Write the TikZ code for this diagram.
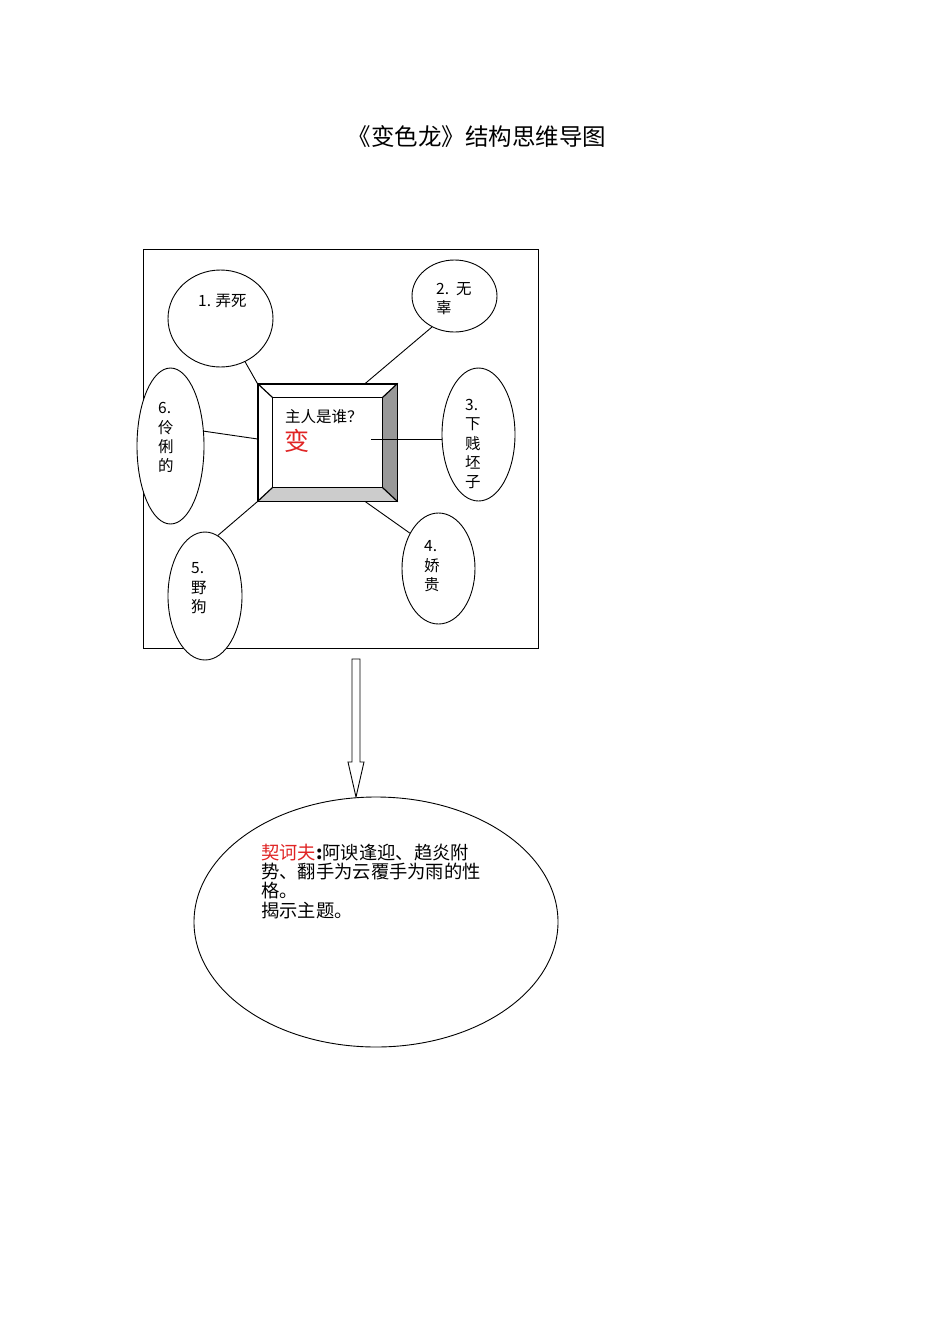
\documentclass[tikz,border=0pt]{standalone}
\usepackage{fontspec}
\setmainfont{Noto Sans CJK SC}
\usetikzlibrary{shapes.geometric,calc}
\definecolor{bevdark}{HTML}{999999}
\definecolor{bevlight}{HTML}{CCCCCC}
\definecolor{keyred}{HTML}{E02424}
\begin{document}
\begin{tikzpicture}[x=1pt,y=-1pt,
  ell/.style={ellipse,draw=black,line width=0.9pt,inner sep=0pt,fill=white},
  link/.style={draw=black,line width=0.9pt},
  lbl/.style={anchor=north west,inner sep=0pt,align=left,font=\fontsize{15.5}{19.3}\selectfont},
  bigtxt/.style={anchor=north west,inner sep=0pt,align=left,font=\fontsize{18.3}{19.3}\selectfont}]
\useasboundingbox (0,0) rectangle (950,1344);
\fill[white] (0,0) rectangle (950,1344);

% title
\node[inner sep=0pt,font=\fontsize{23.5}{26}\selectfont] (title) at (477,137) {《变色龙》结构思维导图};

% outer frame
\node[draw=black,line width=0.9pt,minimum width=395pt,minimum height=399pt,inner sep=0pt] (frame) at (340.5,448.5) {};

% central bevelled box
\node[draw=black,line width=1.4pt,minimum width=139pt,minimum height=117pt,inner sep=0pt] (box) at (327.5,442.5) {};
\coordinate (inw) at ($(box.north west)+(15,14)$);
\coordinate (ine) at ($(box.north east)+(-15,14)$);
\coordinate (ise) at ($(box.south east)+(-15,-14)$);
\coordinate (isw) at ($(box.south west)+(15,-14)$);
\fill[bevdark] (box.north east) -- (box.south east) -- (ise) -- (ine) -- cycle;
\fill[bevlight] (box.south west) -- (box.south east) -- (ise) -- (isw) -- cycle;
\draw[line width=1.4pt] (box.north west) rectangle (box.south east);
\draw[line width=1.4pt] (inw) rectangle (ise);
\draw[line width=1.2pt] (box.north west) -- (inw) (box.north east) -- (ine)
  (box.south east) -- (ise) (box.south west) -- (isw);
\node[lbl] (q) at (285,409.3) {主人是谁？};
\node[anchor=north west,inner sep=0pt,text=keyred,font=\fontsize{25}{26}\selectfont] (bian) at (284.5,429.5) {变};

% satellite ellipses
\node[ell,minimum width=105pt,minimum height=97pt] (e1) at (220.5,318.5) {};
\node[ell,minimum width=85pt,minimum height=72pt] (e2) at (454.5,296) {};
\node[ell,minimum width=73pt,minimum height=133pt] (e3) at (478.5,434.5) {};
\node[ell,minimum width=73pt,minimum height=111pt] (e4) at (438.5,568.5) {};
\node[ell,minimum width=74pt,minimum height=128pt] (e5) at (205,596) {};
\node[ell,minimum width=67pt,minimum height=156pt] (e6) at (170.5,446) {};

\node[lbl] (t1) at (198,294.5) {1. 弄死};
\node[lbl] (t2) at (436,282.5) {2.\ \ 无\\辜};
\node[lbl] (t3) at (465,399) {3.\\下\\贱\\坯\\子};
\node[lbl] (t4) at (424,540.5) {4.\\娇\\贵};
\node[lbl] (t5) at (191,562.5) {5.\\野\\狗};
\node[lbl] (t6) at (158,402.5) {6.\\伶\\俐\\的};

% connectors
\draw[link] (e1) -- (box.north west);
\draw[link] (e2.234) -- ($(box.north west)!0.77!(box.north east)$);
\coordinate (c3) at (371,439);
\draw[link] (c3) -- (c3 -| e3.west);
\draw[link] ($(box.south west)!0.77!(box.south east)$) -- (e4.129);
\draw[link] (box.south west) -- (e5.78);
\draw[link] (e6.24) -- ($(box.north west)!0.47!(box.south west)$);

% block arrow
\coordinate (atop) at (356,659);
\coordinate (atip) at (356,797);
\draw[line width=0.9pt,fill=white] ($(atop)+(-4,0)$) -- ($(atop)+(4,0)$) -- ($(atip)+(4,-35)$) -- ($(atip)+(8,-35)$)
  -- (atip) -- ($(atip)+(-8,-35)$) -- ($(atip)+(-4,-35)$) -- cycle;

% conclusion ellipse
\node[ell,minimum width=364pt,minimum height=250pt] (concl) at (376,922) {};
\node[bigtxt] (ctext) at (261,843.5) {{\color{keyred}契诃夫}\textbf{:}阿谀逢迎、趋炎附\\势、翻手为云覆手为雨的性\\格。\\揭示主题。};
\end{tikzpicture}
\end{document}
